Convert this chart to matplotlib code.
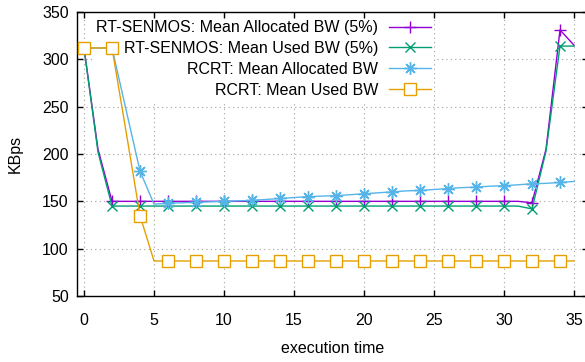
import matplotlib
matplotlib.use("Agg")
import matplotlib.pyplot as plt

plt.rcParams['font.family'] = ['Liberation Sans', 'DejaVu Sans']
plt.rcParams['font.size'] = 11.5

# execution time steps
time = list(range(36))

senmos_alloc = [312, 205] + [150] * 30 + [148.5, 205, 331, 315]
senmos_used = [312, 202] + [145] * 30 + [142, 203, 314, 314]
rcrt_alloc = [312, 312, 312, 247, 182, 147, 148, 148.5, 149, 149.5, 150, 150.5,
              151, 152, 153, 154, 155, 155.5, 156, 157, 158, 159, 160, 161,
              161.5, 162.5, 163.5, 164.5, 165, 166, 166.5, 167.5, 168.5, 169,
              170, 171]
rcrt_used = [312, 312, 312, 224, 135] + [87] * 31

labels = ["RT-SENMOS: Mean Allocated BW (5%)",
          "RT-SENMOS: Mean Used BW (5%)",
          "RCRT: Mean Allocated BW",
          "RCRT: Mean Used BW"]
colors = ["#9400d3", "#009e73", "#56b4e9", "#e69f00"]

xticks = list(range(0, 36, 5))
yticks = list(range(50, 351, 50))

W, H = 585, 362
fig = plt.figure(figsize=(W / 100, H / 100), dpi=100)
ax = fig.add_axes([77 / W, (H - 296) / H, (588 - 77) / W, (296 - 12) / H])

# dotted grid kept underneath the legend box
grid_kw = dict(color='#a0a0a0', linestyle=(0, (1, 3)), linewidth=0.8, zorder=0.4)
for xv in xticks:
    ax.axvline(xv, **grid_kw)
for yv in yticks:
    ax.axhline(yv, **grid_kw)

lw = 1.0
ax.plot(time, senmos_alloc, color=colors[0], lw=lw, marker='+', ms=8,
        mew=1.0, markevery=2, label=labels[0], zorder=3)
ax.plot(time, senmos_used, color=colors[1], lw=lw, marker='x', ms=7,
        mew=1.0, markevery=2, label=labels[1], zorder=3)
ax.plot(time, rcrt_alloc, color=colors[2], lw=lw, marker=(8, 2, 0), ms=9,
        mew=1.0, markevery=2, label=labels[2], zorder=3)
ax.plot(time, rcrt_used, color=colors[3], lw=lw, marker='s', ms=8,
        mew=1.0, mfc='white', markevery=2, label=labels[3], zorder=3)

ax.set_xlim(-0.5, 36)
ax.set_ylim(50, 350)
ax.set_xticks(xticks)
ax.set_yticks(yticks)

ax.tick_params(direction='in', length=4.5, width=1.0, top=True, right=True,
               labelsize=11.5, colors='black')
ax.tick_params(axis='x', pad=12)
ax.tick_params(axis='y', pad=6)
for s in ax.spines.values():
    s.set_linewidth(1.0)

ax.set_xlabel("execution time", fontsize=11.5, labelpad=9.5)
ax.set_ylabel("KBps", fontsize=11.5, labelpad=14)

leg = ax.legend(loc='upper right', bbox_to_anchor=(442 / W, 1 - 9 / H),
                bbox_transform=fig.transFigure, markerfirst=False,
                frameon=True, fancybox=False, edgecolor='none',
                facecolor='white', framealpha=1.0, borderpad=0.2,
                handlelength=2.6, handletextpad=0.7, labelspacing=0.37,
                fontsize=11.5)
leg.set_zorder(1)

fig.savefig("out.png", dpi=100)
